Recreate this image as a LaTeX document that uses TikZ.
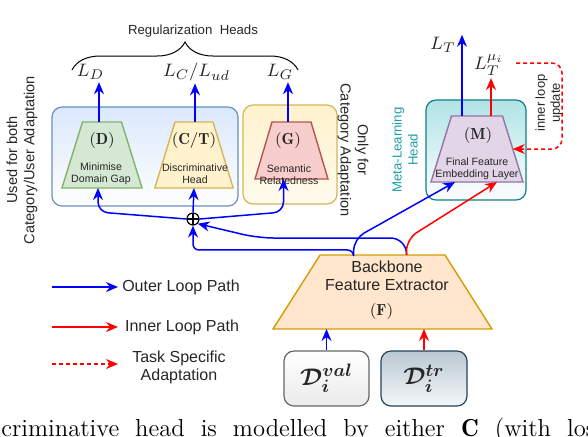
\documentclass[tikz,border=0pt]{standalone}
\usepackage{amsmath}
\usepackage{fontspec}
\setsansfont{Liberation Sans}
\usetikzlibrary{arrows.meta,shapes.geometric,decorations.pathreplacing,calc}
\definecolor{regfill}{HTML}{DAE8FC}
\definecolor{regline}{HTML}{6C8EBF}
\definecolor{yelfill}{HTML}{FFF2CC}
\definecolor{yelline}{HTML}{D6B656}
\definecolor{greenfill}{HTML}{D5E8D4}
\definecolor{greenline}{HTML}{82B366}
\definecolor{redfill}{HTML}{F8CECC}
\definecolor{redline}{HTML}{B85450}
\definecolor{tealfill}{HTML}{B0E3E6}
\definecolor{tealline}{HTML}{0E8088}
\definecolor{metateal}{HTML}{1A9EA3}
\definecolor{purplefill}{HTML}{E1D5E7}
\definecolor{purpleline}{HTML}{9673A6}
\definecolor{orangefill}{HTML}{FFE6CC}
\definecolor{orangeline}{HTML}{D79B00}
\definecolor{grayline}{HTML}{666666}
\definecolor{slatefill}{HTML}{BAC8D3}
\definecolor{slateline}{HTML}{23445D}

\begin{document}
\begin{tikzpicture}
[x=0.5pt, y=-0.5pt,
every node/.style={font=\sffamily, text=black!85},
headbox/.style={draw, rounded corners=5pt, line width=0.6pt},
trap/.style={trapezium, draw, line width=0.7pt, inner sep=0pt, outer sep=0pt, text depth=0pt},
outerpath/.style={draw=blue, line width=0.75pt, -{Stealth[length=6pt,width=5pt,inset=2pt]}},
innerpath/.style={draw=red, line width=0.75pt, -{Stealth[length=6pt,width=5pt,inset=2pt]}},
taskpath/.style={innerpath, dash pattern=on 2pt off 1.5pt},
lbl/.style={inner sep=1pt, font=\fontsize{9.5}{11}\selectfont},
bold/.style={inner sep=1pt, font=\fontsize{8}{9}\selectfont},
tiny/.style={align=center, font=\sffamily\fontsize{5.3}{6}\selectfont},
side/.style={align=center, font=\sffamily\fontsize{7.3}{8.6}\selectfont},
legend/.style={align=center, font=\sffamily\fontsize{8}{9}\selectfont}]
\useasboundingbox (0,0) rectangle (588,436);

% containers
\node[headbox, top color=regfill, bottom color=white, draw=regline, minimum width=93pt, minimum height=49.5pt] (reg) at (145,156.5) {};
\node[headbox, top color=yelfill, bottom color=yelfill!35, draw=yelline, minimum width=47pt, minimum height=49.5pt] (gbox) at (290,154.5) {};
\node[headbox, top color=tealfill, bottom color=white, draw=tealline, minimum width=50pt, minimum height=50pt] (mbox) at (476,150) {};

% heads
\node[trap, trapezium angle=72.7, text width=19.5pt, text height=33pt, fill=greenfill, draw=greenline] (d) at (102,155) {};
\node[trap, trapezium angle=73, text width=19pt, text height=33pt, fill=yelfill, draw=yelline] (ct) at (194,155) {};
\node[trap, trapezium angle=73.4, text width=19.5pt, text height=28.5pt, fill=redfill, draw=redline] (g) at (291.5,150.5) {};
\node[trap, trapezium angle=72.7, text width=25.5pt, text height=33pt, fill=purplefill, draw=purpleline] (m) at (477,149) {};
\node[trap, trapezium angle=57.6, text width=62.5pt, text height=37pt, fill=orangefill, draw=orangeline] (f) at (382.5,292) {};

\node[bold] (dname) at (102,140) {$(\mathbf{D})$};
\node[tiny] (ddesc) at (101,174) {Minimise\\Domain Gap};
\node[bold] (ctname) at (194,140) {$(\mathbf{C/T})$};
\node[tiny] (ctdesc) at (195,174) {Discriminative\\Head};
\node[bold] (gname) at (288,140) {$(\mathbf{G})$};
\node[tiny] (gdesc) at (289,174.5) {Semantic\\Relatedness};
\node[bold] (mname) at (478,135) {$(\mathbf{M})$};
\node[tiny] (mdesc) at (477,169) {Final Feature\\Embedding Layer};
\node[legend] (fdesc) at (387,275.5) {Backbone\\Feature Extractor};
\node[bold] (fname) at (381.5,311) {$(\mathbf{F})$};

% data
\node[headbox, top color=white, bottom color=black!8, draw=grayline, minimum width=42.5pt, minimum height=27.5pt, font=\fontsize{12.5}{14}\selectfont] (dval) at (326.5,378.5) {$\boldsymbol{\mathcal{D}_i^{val}}$};
\node[headbox, top color=slatefill, bottom color=slatefill!15, draw=slateline, minimum width=43pt, minimum height=27.5pt, font=\fontsize{12.5}{14}\selectfont] (dtr) at (424,378.5) {$\boldsymbol{\mathcal{D}_i^{tr}}$};

% losses
\node[lbl] (ld) at (90.5,72) {$L_D$};
\node[lbl] (lc) at (196.5,72) {$L_C/L_{ud}$};
\node[lbl] (lg) at (280,72) {$L_G$};
\node[lbl] (lt) at (443,45) {$L_T$};
\node[lbl] (ltmu) at (489,65) {$L_T^{\mu_i}$};
\node[font=\sffamily\fontsize{6.6}{8}\selectfont] (regt) at (193,31) {Regularization\ \ Heads};
\coordinate (bl) at (72,70);
\coordinate (br) at (298,70);
\draw[line width=0.5pt, decorate, decoration={brace, amplitude=14pt}] (bl) -- (br);

% side texts
\node[side, rotate=90] (both) at (22,160) {Used for both\\Category/User Adaptation};
\node[side, rotate=-90] (only) at (353,150) {Only for\\Category Adaptation};
\node[side, rotate=90, text=metateal, font=\sffamily\fontsize{6.6}{8}\selectfont] (meta) at (405,150) {Meta-Learning\\Head};
\node[side, rotate=90, font=\sffamily\fontsize{6.5}{7.5}\selectfont] (upd) at (549,103) {inner loop\\update};

% sum
\node[draw, circle, minimum size=6pt, inner sep=0pt, line width=0.6pt,
  path picture={\draw[line width=0.6pt] (path picture bounding box.north) -- (path picture bounding box.south)
  (path picture bounding box.west) -- (path picture bounding box.east);}] (sum) at (193,219) {};

% head arrows
\coordinate (dtop) at ($(d.north)+(-3,0)$);
\coordinate (cttop) at ($(ct.north)+(1,0)$);
\coordinate (gtop) at ($(g.north)+(-3.5,0)$);
\draw[outerpath] (dtop) -- (dtop |- ld.south);
\draw[outerpath] (cttop) -- (cttop |- lc.south);
\draw[outerpath] (gtop) -- (gtop |- lg.south);
\draw[outerpath] (sum.north) -- (ct.south);
\draw[outerpath, rounded corners=5pt] (sum.west) -- ($(d.south)+(-4,24)$) -- ($(d.south)+(-4,0)$);
\draw[outerpath, rounded corners=5pt] (sum.east) -- ($(g.south)+(-8,33)$) -- ($(g.south)+(-8,0)$);

% backbone paths
\coordinate (p1) at ($(f.north)+(-29,0)$);
\coordinate (p2) at ($(f.north)+(24,0)$);
\coordinate (bend) at (258,238);
\draw[outerpath, rounded corners=3pt] (p1) -- ++(0,-5) -| (sum.south);
\draw[outerpath, rounded corners=8pt] (p2) |- (bend) -- (sum.south east);
\draw[outerpath, rounded corners=6pt] (p1) -- ++(0,-16) -- ($(m.south)+(-22,0)$);
\draw[innerpath, rounded corners=6pt] (p2) -- ++(0,-16) -- ($(m.south)+(20,0)$);
\draw[outerpath] (dval.north) -- (dval.north |- f.south);
\draw[innerpath] (dtr.north) -- (dtr.north |- f.south);

% meta head
\coordinate (mt) at ($(m.north)+(-15,0)$);
\coordinate (mr) at ($(m.north)+(14,0)$);
\coordinate (loopc) at (562,100);
\draw[outerpath] (mt) -- (mt |- lt.north);
\draw[innerpath] (mr) -- (mr |- ltmu.south);
\draw[taskpath, rounded corners=5pt] ($(ltmu.east)+(10,-2)$) -| (loopc) |- (m.east);

% legend
\coordinate (o1) at (52,287);
\coordinate (o2) at (118,287);
\coordinate (i1) at (52,327);
\coordinate (i2) at (118,327);
\coordinate (t1) at (52,364);
\coordinate (t2) at (118,364);
\draw[outerpath] (o1) -- (o2);
\draw[innerpath] (i1) -- (i2);
\draw[taskpath] (t1) -- (t2);
\node[legend] (olbl) at (181,287) {Outer Loop Path};
\node[legend] (ilbl) at (182,327) {Inner Loop Path};
\node[legend] (tlbl) at (179,367) {Task Specific\\Adaptation};

% caption line
\node[anchor=base west, inner sep=0pt, text=black, font=\rmfamily\fontsize{12.3}{14}\selectfont] (cap) at (1,436.5)
  {\makebox[297pt][s]{criminative head is modelled by either $\mathbf{C}$ (with los}};
\end{tikzpicture}
\end{document}
